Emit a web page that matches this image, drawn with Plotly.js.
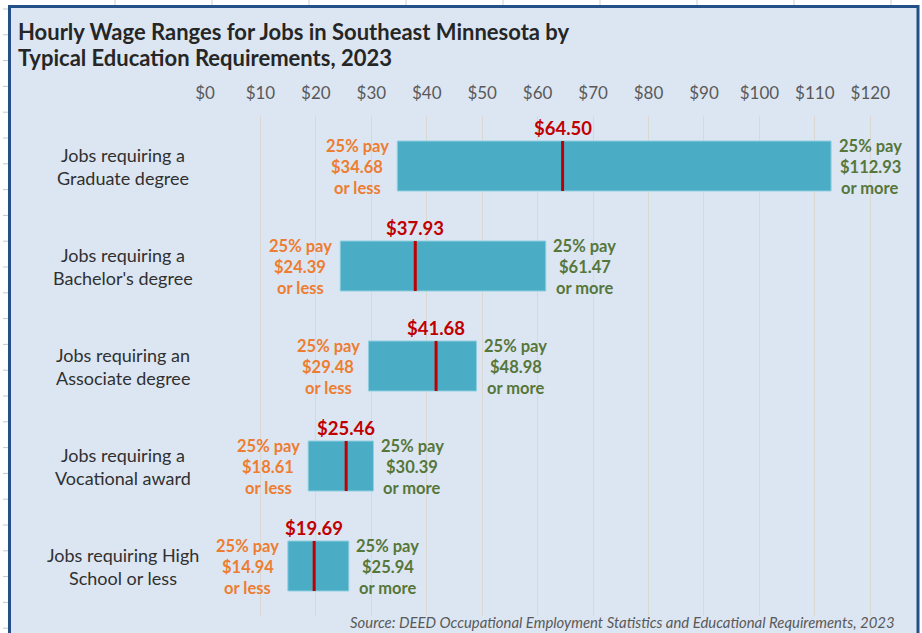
<!DOCTYPE html>
<html>
<head>
<meta charset="utf-8">
<script src="https://cdn.plot.ly/plotly-3.0.1.min.js"></script>
<style>html,body{margin:0;padding:0;background:#fff;}#chart{width:922px;height:633px;}</style>
</head>
<body>
<div id="chart"></div>
<script>
// ---- Data ----
const categories = ['Graduate', 'Bachelor', 'Associate', 'Vocational', 'HighSchool'];
const catLine1 = ['Jobs requiring a', 'Jobs requiring a', 'Jobs requiring an', 'Jobs requiring a', 'Jobs requiring High'];
const catLine2 = ['Graduate degree', "Bachelor's degree", 'Associate degree', 'Vocational award', 'School or less'];
const p25 = [34.68, 24.39, 29.48, 18.61, 14.94];
const median = [64.50, 37.93, 41.68, 25.46, 19.69];
const p75 = [112.93, 61.47, 48.98, 30.39, 25.94];
const tickVals = [0, 10, 20, 30, 40, 50, 60, 70, 80, 90, 100, 110, 120];
const tickText = ['$0', '$10', '$20', '$30', '$40', '$50', '$60', '$70', '$80', '$90', '$100', '$110', '$120'];

const W = 922, H = 633;
const M = {l: 205, r: 24, t: 116, b: 17};
const pw = W - M.l - M.r, ph = H - M.t - M.b;
const px2x = p => (p - M.l) / pw;
const py2y = p => (H - M.b - p) / ph;

const FONT = 'Lato, "Open Sans", sans-serif';
const fmt = v => '$' + v.toFixed(2);

const traces = [
  {
    type: 'bar', orientation: 'h',
    y: categories,
    base: p25,
    x: p75.map((v, i) => v - p25[i]),
    width: 0.5,
    marker: {color: '#4bacc6', line: {color: '#8fcfe0', width: 1}},
    hoverinfo: 'skip'
  },
  {
    type: 'scatter', mode: 'markers',
    x: median, y: categories,
    marker: {symbol: 'line-ns', size: 35.7, line: {color: '#c00000', width: 3}},
    hoverinfo: 'skip'
  }
];

const ann = [];
const lineOff = [20, -1, -22];
categories.forEach((c, i) => {
  const leftLines = ['25% pay', fmt(p25[i]), 'or less'];
  const rightLines = ['25% pay', fmt(p75[i]), 'or more'];
  leftLines.forEach((t, k) => ann.push({
    x: p25[i], y: c, xref: 'x', yref: 'y', text: t, showarrow: false,
    xanchor: 'center', yanchor: 'middle', xshift: -40, yshift: lineOff[k],
    font: {family: FONT, size: 16.5, color: '#ed7d31', weight: 'bold'}
  }));
  rightLines.forEach((t, k) => ann.push({
    x: p75[i], y: c, xref: 'x', yref: 'y', text: t, showarrow: false,
    xanchor: 'center', yanchor: 'middle', xshift: 39, yshift: lineOff[k],
    font: {family: FONT, size: 16.5, color: '#56763a', weight: 'bold'}
  }));
  ann.push({
    x: median[i], y: c, xref: 'x', yref: 'y', text: fmt(median[i]), showarrow: false,
    xanchor: 'center', yanchor: 'middle', yshift: 38,
    font: {family: FONT, size: 18.5, color: '#c00000', weight: 'bold'}
  });
  [catLine1[i], catLine2[i]].forEach((t, k) => ann.push({
    x: px2x(123), y: c, xref: 'paper', yref: 'y', text: t, showarrow: false,
    xanchor: 'center', yanchor: 'middle', yshift: k === 0 ? 11 : -12,
    font: {family: FONT, size: 18, color: '#303030'}
  }));
});
// Title
ann.push({x: px2x(16), y: py2y(31), xref: 'paper', yref: 'paper', xanchor: 'left', yanchor: 'middle', showarrow: false,
  text: 'Hourly Wage Ranges for Jobs in Southeast Minnesota by', font: {family: FONT, size: 22, color: '#262626', weight: 'bold'}});
ann.push({x: px2x(16), y: py2y(58), xref: 'paper', yref: 'paper', xanchor: 'left', yanchor: 'middle', showarrow: false,
  text: 'Typical Education Requirements, 2023', font: {family: FONT, size: 22, color: '#262626', weight: 'bold'}});
// Source
ann.push({x: px2x(897), y: py2y(622), xref: 'paper', yref: 'paper', xanchor: 'right', yanchor: 'middle', showarrow: false,
  text: 'Source: DEED Occupational Employment Statistics and Educational Requirements, 2023',
  font: {family: FONT, size: 14.9, color: '#595959', style: 'italic'}});

// Decorative frame & sheet remnants
const shapes = [{
  type: 'rect', xref: 'paper', yref: 'paper', layer: 'below',
  x0: px2x(9.5), x1: px2x(918), y0: py2y(6.5), y1: py2y(660),
  fillcolor: '#dce6f2', line: {color: '#24508a', width: 3}
}];
for (let yy = 9; yy < H; yy += 25.8) {
  shapes.push({type: 'line', xref: 'paper', yref: 'paper', layer: 'below',
    x0: px2x(3), x1: px2x(8), y0: py2y(yy), y1: py2y(yy), line: {color: '#c8c8c8', width: 1}});
}
for (let xx = 115; xx < 905; xx += 97) {
  shapes.push({type: 'line', xref: 'paper', yref: 'paper', layer: 'below',
    x0: px2x(xx), x1: px2x(xx), y0: py2y(0), y1: py2y(5), line: {color: '#d0d0d0', width: 1}});
}

const layout = {
  width: W, height: H,
  margin: M,
  paper_bgcolor: '#ffffff',
  plot_bgcolor: 'rgba(0,0,0,0)',
  showlegend: false,
  xaxis: {
    range: [0, 125], side: 'top', tickvals: tickVals, ticktext: tickText,
    showgrid: true, gridcolor: '#dbd8d4', gridwidth: 1, zeroline: false,
    ticks: '', ticklabelstandoff: 13, showline: false,
    tickfont: {family: FONT, size: 17, color: '#595959'}, fixedrange: true
  },
  yaxis: {
    type: 'category', categoryorder: 'array', categoryarray: categories,
    range: [4.5, -0.5], showticklabels: false, showgrid: false, zeroline: false, ticks: '', fixedrange: true
  },
  annotations: ann,
  shapes: shapes
};

Plotly.newPlot('chart', traces, layout, {displayModeBar: false, staticPlot: true});
</script>
</body>
</html>
